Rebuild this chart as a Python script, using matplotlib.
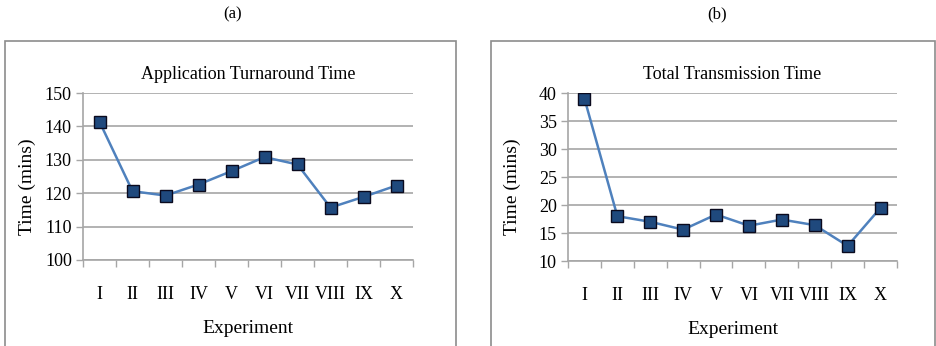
import matplotlib
matplotlib.use("Agg")
import matplotlib.pyplot as plt
from matplotlib.patches import Rectangle

experiments = ["I", "II", "III", "IV", "V", "VI", "VII", "VIII", "IX", "X"]
turnaround = [141.4, 120.6, 119.3, 122.6, 126.6, 130.8, 128.6, 115.7, 118.9, 122.3]
transmission = [39.0, 18.0, 17.0, 15.6, 18.3, 16.3, 17.4, 16.4, 12.7, 19.5]

W, H = 936, 346
fig = plt.figure(figsize=(W / 100, H / 100), dpi=100)
plt.rcParams['font.family'] = ['Liberation Serif', 'DejaVu Serif']

def fx(px): return px / W
def fy(py): return 1 - py / H

line_c = "#4F81BD"
mark_c = "#1F497D"
grid_c = "#A6A6A6"

panels = [
    dict(box=(5, 41, 456), ax=(83, 93, 413, 260), ylx=27, data=turnaround, lim=(100, 150), step=10,
         title="Application Turnaround Time", tag="(a)", tagx=233),
    dict(box=(491, 41, 935), ax=(568, 93, 897, 261), ylx=512, data=transmission, lim=(10, 40), step=5,
         title="Total Transmission Time", tag="(b)", tagx=717),
]

for p in panels:
    bx0, by0, bx1 = p["box"]
    fig.patches.append(Rectangle((fx(bx0), fy(H + 5)), fx(bx1 - bx0), (H + 5 - by0) / H,
                                 transform=fig.transFigure, fill=False, edgecolor="#8C8C8C", lw=1.2))
    x0, y0, x1, y1 = p["ax"]
    ax = fig.add_axes([fx(x0), fy(y1), fx(x1 - x0), (y1 - y0) / H])
    xs = list(range(1, len(experiments) + 1))
    ax.plot(xs, p["data"], color=line_c, lw=1.8, marker="s", markersize=9,
            markerfacecolor=mark_c, markeredgecolor="#0A0A1E", markeredgewidth=1.0, zorder=3)
    ax.set_xlim(0.5, len(experiments) + 0.5)
    lo, hi = p["lim"]
    ax.set_ylim(lo, hi)
    ax.set_yticks(list(range(lo, hi + 1, p["step"])))
    ax.yaxis.grid(True, color=grid_c, lw=1.2)
    ax.set_axisbelow(True)
    ax.set_xticks(xs)
    ax.set_xticklabels(experiments)
    ax.set_xticks([i + 0.5 for i in range(0, len(experiments) + 1)], minor=True)
    ax.tick_params(axis="x", which="major", length=0, pad=19, labelsize=13)
    ax.tick_params(axis="x", which="minor", length=5, color=grid_c, width=1)
    ax.tick_params(axis="y", length=5, color=grid_c, width=1, labelsize=13, pad=3)
    for s in ["top", "right"]:
        ax.spines[s].set_visible(False)
    for s in ["left", "bottom"]:
        ax.spines[s].set_color(grid_c)
        ax.spines[s].set_linewidth(1.2)
    ax.set_title(p["title"], fontsize=13, pad=10)
    ax.set_ylabel("Time (mins)", fontsize=14, va="center")
    ax.yaxis.set_label_coords((p["ylx"] - x0) / (x1 - x0), 0.44)
    ax.set_xlabel("Experiment", fontsize=14, labelpad=12)
    fig.text(fx(p["tagx"]), fy(14), p["tag"], ha="center", va="center", fontsize=12)

fig.savefig("out.png", dpi=100)
